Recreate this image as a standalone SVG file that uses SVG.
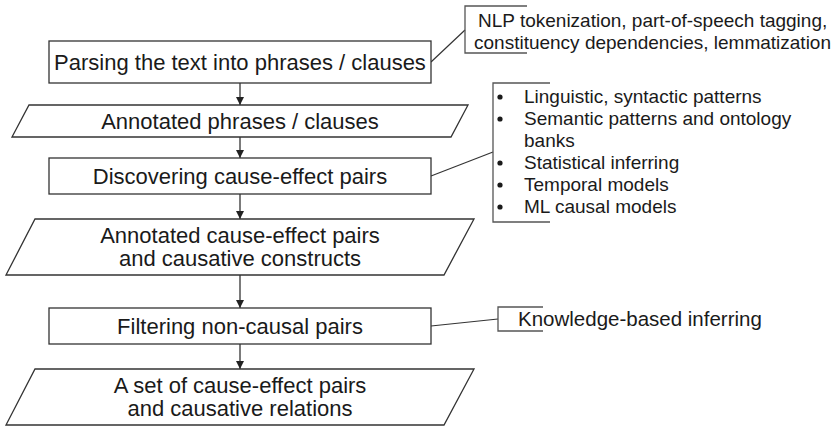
<svg xmlns="http://www.w3.org/2000/svg" width="833" height="427" viewBox="0 0 833 427">
  <style>
    .shape { fill: #ffffff; stroke: #333333; stroke-width: 1.3; }
    .label { font-family: "Liberation Sans", Arial, sans-serif; font-size: 22px; fill: #1a1a1a; text-anchor: middle; }
    .note { font-family: "Liberation Sans", Arial, sans-serif; font-size: 19px; fill: #1a1a1a; }
    .bracket { fill: none; stroke: #555555; stroke-width: 1.3; }
    .link { fill: none; stroke: #333333; stroke-width: 1.2; }
    .flow { fill: none; stroke: #333333; stroke-width: 1.3; }
  </style>
  <defs>
    <marker id="arrow" viewBox="0 0 10 10" refX="10" refY="5" markerWidth="8" markerHeight="8" markerUnits="userSpaceOnUse" orient="auto">
      <path d="M0,0 L10,5 L0,10 Z" fill="#222222"/>
    </marker>
  </defs>
  <rect width="833" height="427" fill="#ffffff"/>

  <!-- connectors -->
  <g id="connectors">
    <line class="flow" x1="240" y1="83" x2="240" y2="105" marker-end="url(#arrow)"/>
    <line class="flow" x1="240" y1="137" x2="240" y2="158" marker-end="url(#arrow)"/>
    <line class="flow" x1="240" y1="194" x2="240" y2="219" marker-end="url(#arrow)"/>
    <line class="flow" x1="240" y1="275" x2="240" y2="308" marker-end="url(#arrow)"/>
    <line class="flow" x1="240" y1="344" x2="240" y2="369" marker-end="url(#arrow)"/>
    <line class="link" x1="431" y1="62" x2="465" y2="30"/>
    <line class="link" x1="431" y1="176" x2="493" y2="152"/>
    <line class="link" x1="431" y1="326" x2="498" y2="319"/>
  </g>

  <!-- flow steps -->
  <g id="parse">
    <rect class="shape" x="49" y="41" width="382" height="42"/>
    <text class="label" x="240" y="70">Parsing the text into phrases / clauses</text>
  </g>
  <g id="annotated-phrases">
    <polygon class="shape" points="29,105 468,105 451,137 12,137"/>
    <text class="label" x="240" y="129">Annotated phrases / clauses</text>
  </g>
  <g id="discover">
    <rect class="shape" x="49" y="158" width="382" height="36"/>
    <text class="label" x="240" y="184">Discovering cause-effect pairs</text>
  </g>
  <g id="annotated-pairs">
    <polygon class="shape" points="35,219 474,219 444,275 6,275"/>
    <text class="label" x="240" y="243">Annotated cause-effect pairs</text>
    <text class="label" x="240" y="266">and causative constructs</text>
  </g>
  <g id="filter">
    <rect class="shape" x="49" y="308" width="382" height="36"/>
    <text class="label" x="240" y="334">Filtering non-causal pairs</text>
  </g>
  <g id="result">
    <polygon class="shape" points="35,369 474,369 444,425 6,425"/>
    <text class="label" x="240" y="393">A set of cause-effect pairs</text>
    <text class="label" x="240" y="416">and causative relations</text>
  </g>

  <!-- annotations -->
  <g id="note-nlp">
    <path class="bracket" d="M527,6 H465 V53 H527"/>
    <text class="note" x="478" y="27">NLP tokenization, part-of-speech tagging,</text>
    <text class="note" x="474" y="49">constituency dependencies, lemmatization</text>
  </g>
  <g id="note-methods">
    <path class="bracket" d="M550,83 H493 V222 H550"/>
    <g class="note">
      <circle cx="500" cy="97" r="2.6" fill="#1a1a1a"/>
      <text x="524" y="103">Linguistic, syntactic patterns</text>
      <circle cx="500" cy="119" r="2.6" fill="#1a1a1a"/>
      <text x="524" y="125">Semantic patterns and ontology</text>
      <text x="524" y="147">banks</text>
      <circle cx="500" cy="163" r="2.6" fill="#1a1a1a"/>
      <text x="524" y="169">Statistical inferring</text>
      <circle cx="500" cy="185" r="2.6" fill="#1a1a1a"/>
      <text x="524" y="191">Temporal models</text>
      <circle cx="500" cy="207" r="2.6" fill="#1a1a1a"/>
      <text x="524" y="213">ML causal models</text>
    </g>
  </g>
  <g id="note-knowledge">
    <path class="bracket" d="M543,307 H498 V331 H543"/>
    <text class="note" x="518" y="326" style="font-size:20.5px">Knowledge-based inferring</text>
  </g>
</svg>
